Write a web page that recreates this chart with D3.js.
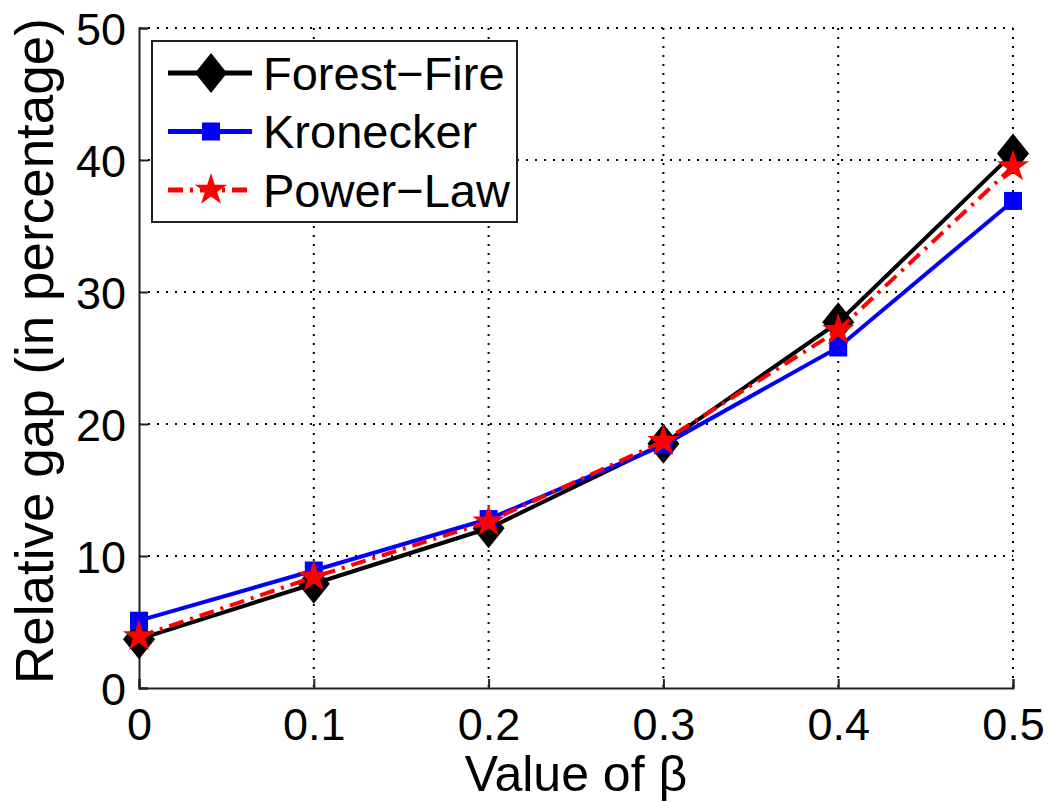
<!DOCTYPE html>
<meta charset="utf-8">
<style>
  body { margin: 0; background: #fff; }
  svg text { font-family: "Liberation Sans", Arial, sans-serif; fill: #000; }
</style>
<script src="https://cdn.jsdelivr.net/npm/d3@7"></script>
<svg id="chart" width="1049" height="802"></svg>
<script>
  // data
  var betas = [0, 0.1, 0.2, 0.3, 0.4, 0.5];
  var forestFire = [3.7, 7.9, 12.1, 18.5, 27.7, 40.5];
  var kronecker = [5.1, 8.9, 12.8, 18.4, 25.8, 36.9];
  var powerLaw = [3.9, 8.4, 12.6, 18.7, 27.1, 39.5];
  var xTicks = [0, 0.1, 0.2, 0.3, 0.4, 0.5];
  var yTicks = [0, 10, 20, 30, 40, 50];
  var seriesNames = ["Forest\u2212Fire", "Kronecker", "Power\u2212Law"];

  var svg = d3.select("#chart");
  var pLeft = 139, pRight = 1013, pTop = 28, pBottom = 688;

  var x = d3.scaleLinear().domain([0, 0.5]).range([pLeft, pRight]);
  var y = d3.scaleLinear().domain([0, 50]).range([pBottom, pTop]);

  // dotted grid
  var grid = svg.append("g");
  grid.selectAll("line.v").data(xTicks.slice(1)).enter().append("line")
    .attr("x1", x).attr("x2", x).attr("y1", pTop).attr("y2", pBottom)
    .attr("stroke", "#000").attr("stroke-width", 2).attr("stroke-dasharray", "2,7");
  grid.selectAll("line.h").data(yTicks.slice(1)).enter().append("line")
    .attr("x1", pLeft).attr("x2", pRight).attr("y1", y).attr("y2", y)
    .attr("stroke", "#000").attr("stroke-width", 2).attr("stroke-dasharray", "2,7");

  // axes
  var xAxis = d3.axisBottom(x).tickValues(xTicks).tickSize(-9).tickPadding(20)
    .tickFormat(function(d) { return d === 0 ? "0" : d3.format(".1f")(d); });
  var yAxis = d3.axisLeft(y).tickValues(yTicks).tickSize(-9).tickPadding(13)
    .tickFormat(d3.format("d"));

  var gx = svg.append("g").attr("transform", "translate(0," + pBottom + ")").call(xAxis);
  var gy = svg.append("g").attr("transform", "translate(" + pLeft + ",0)").call(yAxis);
  [gx, gy].forEach(function(g) {
    g.attr("font-size", 45).attr("font-family", "Liberation Sans, Arial, sans-serif");
    g.select(".domain").attr("stroke", "#222").attr("stroke-width", 2);
    g.selectAll(".tick line").attr("stroke", "#222").attr("stroke-width", 2);
  });
  gx.selectAll(".tick text").attr("dy", "0.71em");
  gy.selectAll(".tick text").attr("dy", "0.36em");

  // labels
  svg.append("text").attr("x", (pLeft + pRight) / 2).attr("y", 791)
    .attr("text-anchor", "middle").attr("font-size", 50).text("Value of \u03b2");
  svg.append("text").attr("transform", "translate(53,351) rotate(-90)")
    .attr("text-anchor", "middle").attr("font-size", 53).text("Relative gap (in percentage)");

  // markers
  function diamond(w, h) {
    return "M0," + (-h) + "L" + w + ",0L0," + h + "L" + (-w) + ",0Z";
  }
  function star(R) {
    var r = R * 0.382, p = [];
    for (var i = 0; i < 10; i++) {
      var a = -Math.PI / 2 + i * Math.PI / 5, rr = i % 2 ? r : R;
      p.push([rr * Math.cos(a), rr * Math.sin(a)]);
    }
    return "M" + p.map(function(q) { return q[0].toFixed(2) + "," + q[1].toFixed(2); }).join("L") + "Z";
  }

  var series = [
    { name: seriesNames[0], values: forestFire, color: "#000", dash: null, marker: diamond(16, 20) },
    { name: seriesNames[1], values: kronecker, color: "#0000ff", dash: null, marker: "M-9,-9H9V9H-9Z" },
    { name: seriesNames[2], values: powerLaw, color: "#ff0000", dash: "15,7,3,7", marker: star(17) }
  ];

  var line = d3.line().x(function(d, i) { return x(betas[i]); }).y(function(d) { return y(d); });

  series.forEach(function(s) {
    svg.append("path").datum(s.values).attr("d", line)
      .attr("fill", "none").attr("stroke", s.color).attr("stroke-width", 4)
      .attr("stroke-dasharray", s.dash);
    svg.selectAll(null).data(s.values).enter().append("path")
      .attr("d", s.marker)
      .attr("transform", function(d, i) { return "translate(" + x(betas[i]) + "," + y(d) + ")"; })
      .attr("fill", s.color);
  });

  // legend
  var lg = svg.append("g");
  lg.append("rect").attr("x", 152).attr("y", 41).attr("width", 365).attr("height", 181)
    .attr("fill", "#fff").attr("stroke", "#222").attr("stroke-width", 2);
  series.forEach(function(s, i) {
    var cy = 73 + i * 58.5;
    lg.append("line").attr("x1", 168).attr("x2", 252).attr("y1", cy).attr("y2", cy)
      .attr("stroke", s.color).attr("stroke-width", 5).attr("stroke-dasharray", s.dash);
    lg.append("path").attr("d", s.marker).attr("transform", "translate(211," + cy + ")").attr("fill", s.color);
    lg.append("text").attr("x", 263).attr("y", cy).attr("dy", "0.36em")
      .attr("font-size", 47).text(s.name);
  });
</script>
